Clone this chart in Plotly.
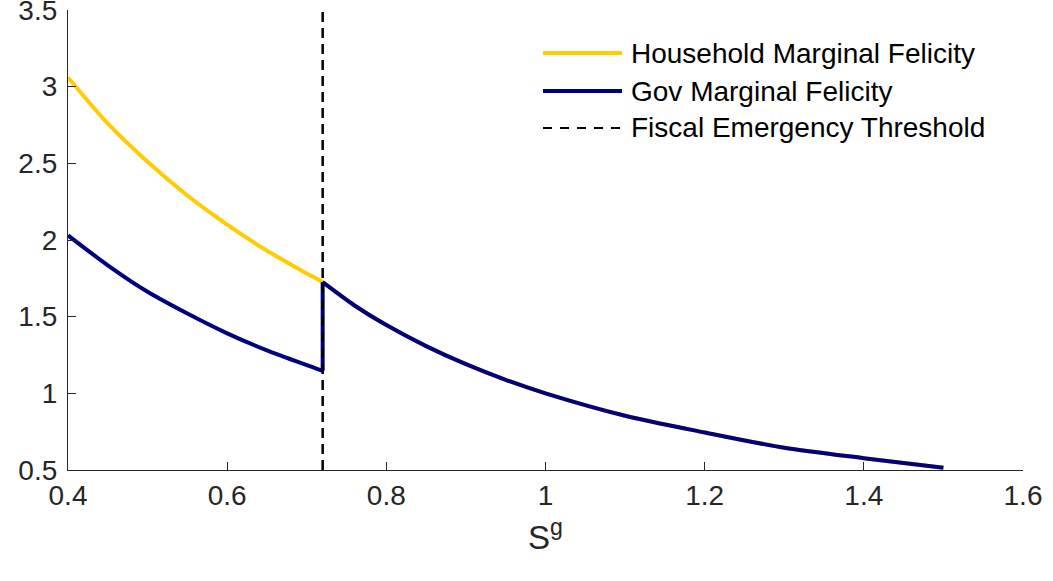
import plotly.graph_objects as go

# ---- data ----
threshold = 0.72
S_lo = [0.40, 0.45, 0.50, 0.55, 0.60, 0.65, 0.70, 0.72]
hh_lo = [3.06, 2.76, 2.51, 2.29, 2.10, 1.93, 1.782, 1.725]
gov_lo = [2.03, 1.835, 1.662, 1.52, 1.391, 1.28, 1.184, 1.147]
S_hi = [0.72, 0.76, 0.80, 0.85, 0.90, 0.95, 1.00, 1.10, 1.20, 1.30, 1.40, 1.50]
mf_hi = [1.725, 1.573, 1.445, 1.308, 1.19, 1.088, 1.0, 0.854, 0.745, 0.645, 0.577, 0.515]

x_ticks = [0.4, 0.6, 0.8, 1.0, 1.2, 1.4, 1.6]
y_ticks = [0.5, 1.0, 1.5, 2.0, 2.5, 3.0, 3.5]
legend_labels = ["Household Marginal Felicity", "Gov Marginal Felicity", "Fiscal Emergency Threshold"]

YELLOW = "#FFCC00"
NAVY = "#00007F"
FONT = "Liberation Sans, Arial, sans-serif"
TXT = "#262626"
LW = 4

fig = go.Figure()

# Household (yellow), full range
fig.add_trace(go.Scatter(x=S_lo + S_hi[1:], y=hh_lo + mf_hi[1:], mode="lines",
                         line=dict(color=YELLOW, width=LW, shape="spline", smoothing=0.8),
                         name=legend_labels[0], showlegend=False))
# Gov lower branch
fig.add_trace(go.Scatter(x=S_lo, y=gov_lo, mode="lines",
                         line=dict(color=NAVY, width=LW, shape="spline", smoothing=0.8),
                         name=legend_labels[1], showlegend=False))
# Gov jump at threshold
fig.add_trace(go.Scatter(x=[threshold, threshold], y=[gov_lo[-1], mf_hi[0]], mode="lines",
                         line=dict(color=NAVY, width=LW), showlegend=False, hoverinfo="skip"))
# Gov upper branch
fig.add_trace(go.Scatter(x=S_hi, y=mf_hi, mode="lines",
                         line=dict(color=NAVY, width=LW, shape="spline", smoothing=0.8),
                         showlegend=False))
# Threshold line
fig.add_trace(go.Scatter(x=[threshold, threshold], y=[y_ticks[0], y_ticks[-1]], mode="lines",
                         line=dict(color="black", width=2.5, dash="10px,6px"),
                         name=legend_labels[2], showlegend=False))

# Manual legend (MATLAB-style long sample lines)
leg_x0, leg_x1, text_x = 0.4974, 0.5801, 0.5875
leg_ys = [0.9065, 0.8239, 0.7435]
leg_styles = [dict(color=YELLOW, width=LW), dict(color=NAVY, width=LW),
              dict(color="black", width=2.2, dash="9px,8px")]
shapes = []
annotations = []
for yv, st, lab in zip(leg_ys, leg_styles, legend_labels):
    shapes.append(dict(type="line", xref="paper", yref="paper", x0=leg_x0, x1=leg_x1,
                       y0=yv, y1=yv, line=st))
    annotations.append(dict(xref="paper", yref="paper", x=text_x, y=yv, text=lab,
                            showarrow=False, xanchor="left", yanchor="middle",
                            font=dict(family=FONT, size=28, color="black")))

fig.update_layout(
    width=1053, height=581,
    margin=dict(l=68, r=30, t=10, b=111, autoexpand=False),
    paper_bgcolor="white", plot_bgcolor="white",
    shapes=shapes, annotations=annotations,
    font=dict(family=FONT, size=28, color=TXT),
    xaxis=dict(range=[x_ticks[0], x_ticks[-1]], tickvals=x_ticks, ticks="inside", ticklen=8,
               tickcolor=TXT, showline=True, linecolor=TXT, linewidth=1.2, showgrid=False,
               zeroline=False, automargin=False, ticklabeloverflow="allow",
               title=dict(text="S<sup>g</sup>", font=dict(size=33, color=TXT), standoff=16),
               tickfont=dict(size=28, color=TXT)),
    yaxis=dict(range=[y_ticks[0], y_ticks[-1]], tickvals=y_ticks, ticks="inside", ticklen=8,
               tickcolor=TXT, showline=True, linecolor=TXT, linewidth=1.2, showgrid=False,
               zeroline=False, automargin=False, ticklabeloverflow="allow",
               tickfont=dict(size=28, color=TXT), ticklabelstandoff=4),
)

fig.write_html("out.html", config={"displayModeBar": False},
               post_script="document.body.style.margin='0';document.body.style.overflow='hidden';")
